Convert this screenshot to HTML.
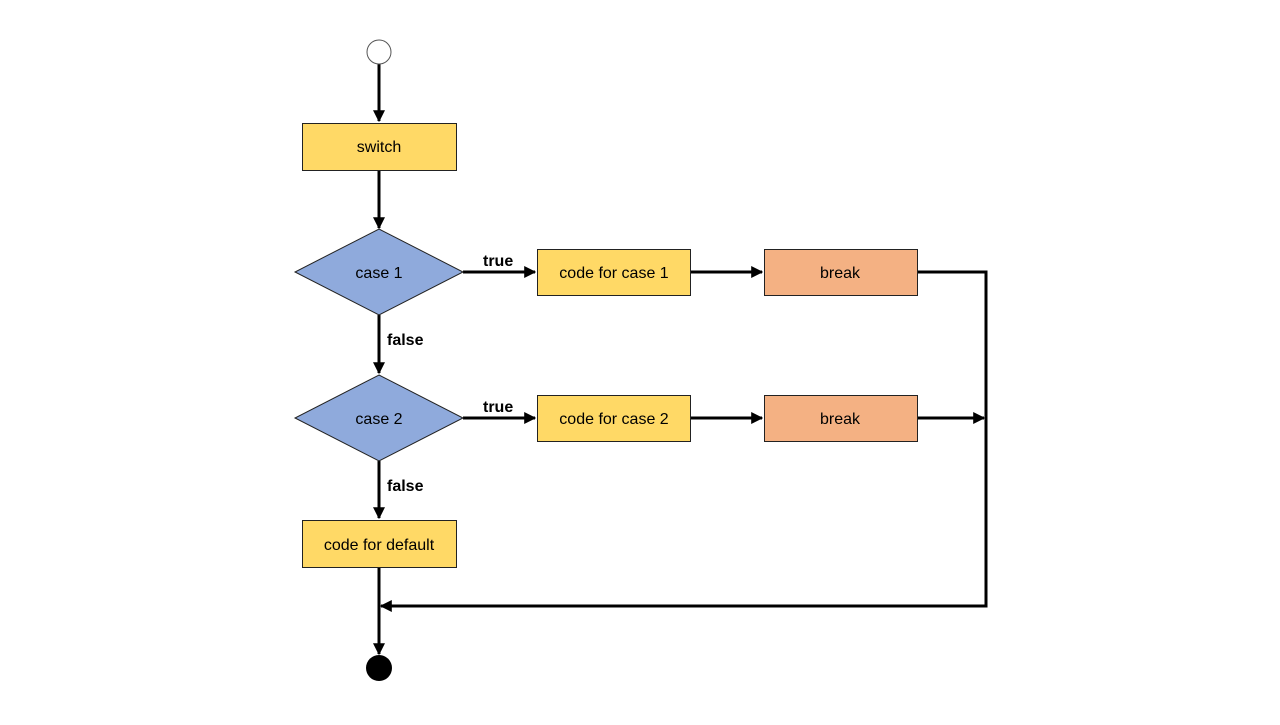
<!DOCTYPE html>
<html><head><meta charset="utf-8"><style>
html,body{margin:0;padding:0;background:#fff;}
text{font-family:"Liberation Sans","DejaVu Sans",sans-serif;}
</style></head><body>
<svg width="1280" height="720" viewBox="0 0 1280 720" xmlns="http://www.w3.org/2000/svg">
<defs>
<marker id="a" markerWidth="4" markerHeight="4" refX="3.6" refY="2" orient="auto" markerUnits="strokeWidth">
<path d="M0,0 L4,2 L0,4 z" fill="#000"/></marker>
</defs>
<g stroke="#000" stroke-width="3" fill="none">
<line x1="379" y1="64" x2="379" y2="121" marker-end="url(#a)"/>
<line x1="379" y1="170" x2="379" y2="228" marker-end="url(#a)"/>
<line x1="379" y1="315" x2="379" y2="373" marker-end="url(#a)"/>
<line x1="379" y1="461" x2="379" y2="518" marker-end="url(#a)"/>
<line x1="379" y1="567" x2="379" y2="654" marker-end="url(#a)"/>
<line x1="463" y1="272" x2="535" y2="272" marker-end="url(#a)"/>
<line x1="690" y1="272" x2="762" y2="272" marker-end="url(#a)"/>
<line x1="463" y1="418" x2="535" y2="418" marker-end="url(#a)"/>
<line x1="690" y1="418" x2="762" y2="418" marker-end="url(#a)"/>
<line x1="917" y1="418" x2="984" y2="418" marker-end="url(#a)"/>
<polyline points="917,272 986,272 986,606 381,606" marker-end="url(#a)"/>
</g>
<circle cx="379" cy="52" r="12" fill="#fff" stroke="#555" stroke-width="1"/>
<circle cx="379" cy="668" r="13" fill="#000"/>
<g stroke="#222" stroke-width="1">
<rect x="302.5" y="123.5" width="154" height="47" fill="#FFD966"/>
<rect x="302.5" y="520.5" width="154" height="47" fill="#FFD966"/>
<rect x="537.5" y="249.5" width="153" height="46" fill="#FFD966"/>
<rect x="537.5" y="395.5" width="153" height="46" fill="#FFD966"/>
<rect x="764.5" y="249.5" width="153" height="46" fill="#F4B183"/>
<rect x="764.5" y="395.5" width="153" height="46" fill="#F4B183"/>
<polygon points="379,229 463,272 379,315 295,272" fill="#8FAADC"/>
<polygon points="379,375 463,418 379,461 295,418" fill="#8FAADC"/>
</g>
<g font-size="16" text-anchor="middle" fill="#000">
<text x="379" y="152">switch</text>
<text x="379" y="278">case 1</text>
<text x="379" y="424">case 2</text>
<text x="379" y="550">code for default</text>
<text x="614" y="278">code for case 1</text>
<text x="614" y="424">code for case 2</text>
<text x="840" y="278">break</text>
<text x="840" y="424">break</text>
</g>
<g font-size="16" font-weight="bold" fill="#000">
<text x="483" y="266">true</text>
<text x="483" y="412">true</text>
<text x="387" y="345">false</text>
<text x="387" y="491">false</text>
</g>
</svg>
</body></html>
